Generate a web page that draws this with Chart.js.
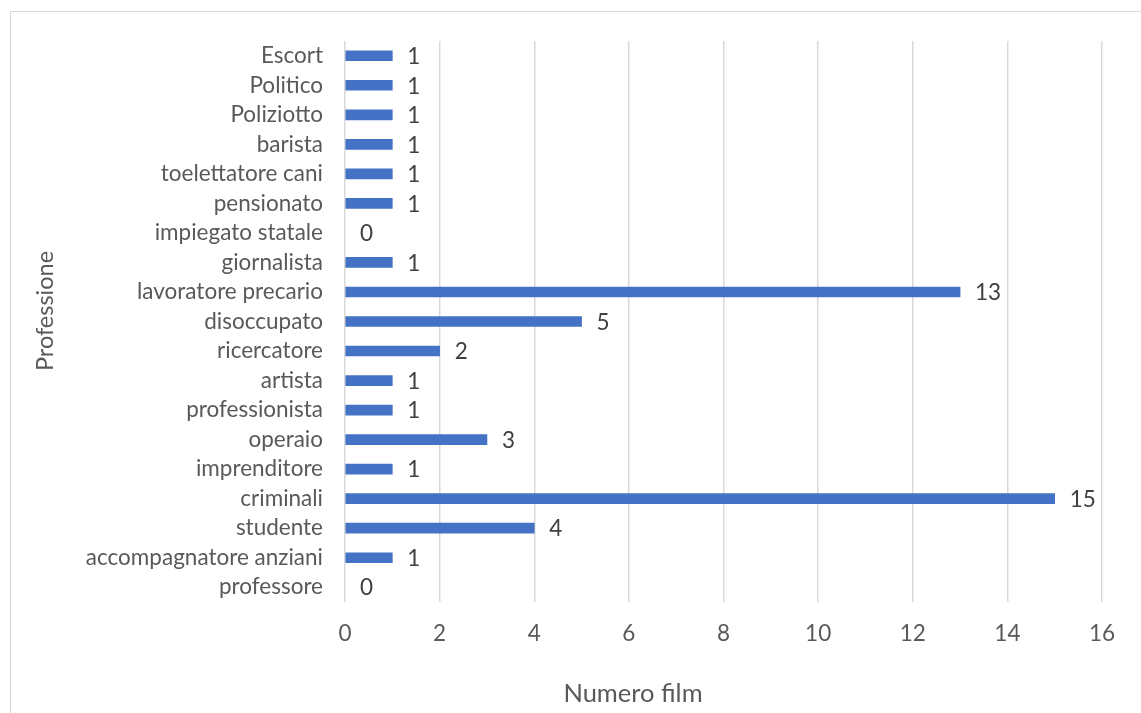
<!DOCTYPE html>
<html>
<head>
<meta charset="utf-8">
<script src="https://cdn.jsdelivr.net/npm/chart.js@4"></script>
<style>
html,body{margin:0;padding:0;background:#fff;overflow:hidden;width:1141px;height:713px;}
#frame{position:absolute;left:10px;top:11px;width:1300px;height:900px;border:1px solid #d9d9d9;box-sizing:border-box;}
#wrap{position:absolute;left:0;top:0;width:1141px;height:713px;}
</style>
</head>
<body>
<div id="frame"></div>
<div id="wrap"><canvas id="c" width="1141" height="713"></canvas></div>
<script>
const categories = ["Escort","Politico","Poliziotto","barista","toelettatore cani","pensionato","impiegato statale","giornalista","lavoratore precario","disoccupato","ricercatore","artista","professionista","operaio","imprenditore","criminali","studente","accompagnatore anziani","professore"];
const values = [1,1,1,1,1,1,0,1,13,5,2,1,1,3,1,15,4,1,0];
const xTicks = [0,2,4,6,8,10,12,14,16];
const xTitle = "Numero film";
const yTitle = "Professione";

const FONT = "Lato, 'Liberation Sans', sans-serif";

const valueLabels = {
  id: 'valueLabels',
  afterDatasetsDraw(chart) {
    const ctx = chart.ctx;
    const meta = chart.getDatasetMeta(0);
    ctx.save();
    ctx.font = "22.5px " + FONT;
    ctx.fillStyle = "#404040";
    ctx.textAlign = "left";
    ctx.textBaseline = "middle";
    meta.data.forEach((bar, i) => {
      ctx.fillText(String(values[i]), bar.x + 15, bar.y + 1);
    });
    ctx.restore();
  }
};

const axisTitles = {
  id: 'axisTitles',
  afterDraw(chart) {
    const ctx = chart.ctx;
    ctx.save();
    ctx.fillStyle = "#595959";
    ctx.textAlign = "center";
    ctx.textBaseline = "alphabetic";
    ctx.font = "25.5px " + FONT;
    ctx.fillText(xTitle, 633, 702);
    ctx.translate(53, 311);
    ctx.rotate(-Math.PI / 2);
    ctx.font = "23.5px " + FONT;
    ctx.fillText(yTitle, 0, 0);
    ctx.restore();
  }
};

new Chart(document.getElementById('c'), {
  type: 'bar',
  data: {
    labels: categories,
    datasets: [{
      data: values,
      backgroundColor: (c) => (values[c.dataIndex] === 0 ? 'rgba(0,0,0,0)' : '#4472C4'),
      barThickness: 10
    }]
  },
  options: {
    indexAxis: 'y',
    responsive: false,
    animation: false,
    layout: { padding: { left: 0, top: 41, right: 39, bottom: 0 } },
    plugins: { legend: { display: false }, tooltip: { enabled: false } },
    scales: {
      x: {
        min: 0, max: 16,
        afterBuildTicks(scale) { scale.ticks = xTicks.map(v => ({ value: v })); },
        afterFit(scale) { scale.height = 111; },
        grid: { color: '#d9d9d9', lineWidth: 1.5, drawTicks: false },
        border: { display: false },
        ticks: { padding: 18, color: '#595959', font: { family: FONT, size: 22.5 } }
      },
      y: {
        afterFit(scale) { scale.width = 345; },
        grid: { display: false, drawTicks: false },
        border: { display: false },
        ticks: { padding: 22, color: '#595959', font: { family: FONT, size: 22.5 }, autoSkip: false }
      }
    }
  },
  plugins: [valueLabels, axisTitles]
});
</script>
</body>
</html>
